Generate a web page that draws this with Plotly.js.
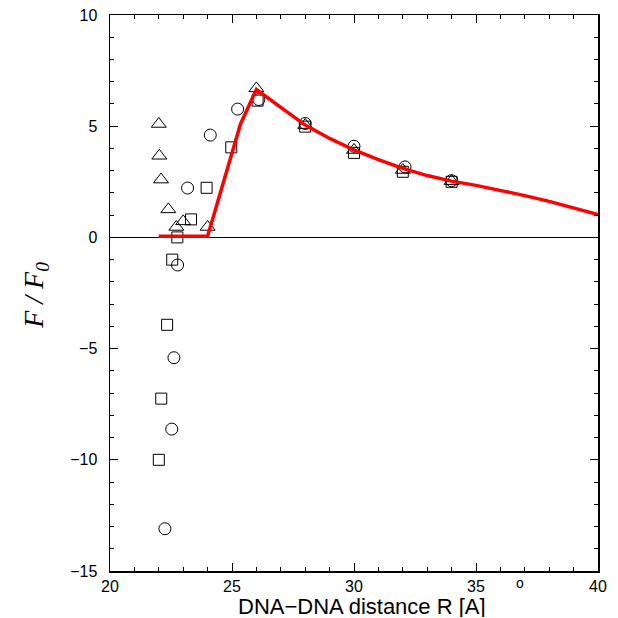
<!DOCTYPE html>
<html>
<head>
<meta charset="utf-8">
<script src="https://cdn.plot.ly/plotly-3.0.1.min.js"></script>
<style>html,body{margin:0;padding:0;background:#fff;}#chart{width:618px;height:618px;}</style>
</head>
<body>
<div id="chart"></div>
<script>
// Triangles
const triX = [22.0, 22.02, 22.09, 22.39, 22.72, 23.0, 24.0, 26.0, 28.0, 30.0, 32.0, 34.0];
const triY = [5.1, 3.67, 2.6, 1.26, 0.47, 0.72, 0.47, 6.7, 5.05, 3.93, 3.03, 2.53];
// Squares
const sqX = [22.0, 22.1, 22.34, 22.55, 22.76, 23.32, 23.96, 24.97, 26.05, 28.0, 30.0, 32.0, 34.0];
const sqY = [-10.0, -7.25, -3.93, -1.0, 0.0, 0.81, 2.23, 4.05, 6.15, 4.98, 3.8, 2.95, 2.5];
// Circles
const cirX = [22.25, 22.53, 22.62, 22.77, 23.18, 24.11, 25.23, 26.1, 28.0, 30.0, 32.09, 34.0];
const cirY = [-13.1, -8.62, -5.41, -1.24, 2.22, 4.6, 5.77, 6.2, 5.12, 4.1, 3.17, 2.55];
// Fit line
const fitX = [22, 24, 25.35, 26, 27, 28, 29, 30, 31, 32, 33, 34, 35, 36, 37, 38, 39, 40];
const fitY = [0.05, 0.05, 5.1, 6.65, 5.85, 5.05, 4.45, 3.93, 3.5, 3.1, 2.78, 2.53, 2.34, 2.12, 1.88, 1.62, 1.34, 1.03];

const xTitle = "DNA\u2212DNA distance R [A]";
const yTitle = "<i>F / F<sub>0</sub></i>";

const mk = (sym, size) => ({symbol: sym, size: size, color: 'black', line: {color: 'black', width: 1}});

const traces = [
  {x: triX, y: triY, mode: 'markers', type: 'scatter', marker: mk('triangle-up-open', 13), cliponaxis: false},
  {x: sqX, y: sqY, mode: 'markers', type: 'scatter', marker: mk('square-open', 11), cliponaxis: false},
  {x: cirX, y: cirY, mode: 'markers', type: 'scatter', marker: mk('circle-open', 12), cliponaxis: false},
  {x: fitX, y: fitY, mode: 'lines', type: 'scatter', line: {color: '#ff0000', width: 3.5}}
];

const axisCommon = {
  showline: true, linecolor: 'black', linewidth: 1.5, mirror: 'allticks',
  ticks: 'inside', ticklen: 8, tickwidth: 1, tickcolor: 'black',
  showgrid: false,
  tickfont: {family: 'Liberation Sans, Arial, sans-serif', size: 16, color: 'black'},
  minor: {ticks: 'inside', ticklen: 4, tickwidth: 1, tickcolor: 'black', dtick: 1, showgrid: false}
};

const layout = {
  width: 618, height: 618,
  margin: {l: 110, r: 20, t: 15, b: 47},
  paper_bgcolor: 'white', plot_bgcolor: 'white',
  showlegend: false,
  xaxis: Object.assign({}, axisCommon, {range: [20, 40], dtick: 5, tick0: 20, zeroline: false}),
  yaxis: Object.assign({}, axisCommon, {range: [-15, 10], dtick: 5, tick0: -15, zeroline: true, zerolinecolor: 'black', zerolinewidth: 1.5, ticklabelstandoff: 8}),
  annotations: [
    {xref: 'paper', yref: 'paper', x: 0.517, y: 0, yshift: -35, xanchor: 'center', yanchor: 'middle', height: 22, borderpad: 0,
     text: xTitle, showarrow: false, font: {family: 'Liberation Sans, Arial, sans-serif', size: 22, color: 'black'}},
    {xref: 'paper', yref: 'paper', x: 0.84, y: 0, yshift: -12, xanchor: 'center', yanchor: 'middle',
     text: 'o', showarrow: false, font: {family: 'Liberation Sans, Arial, sans-serif', size: 14, color: 'black'}},
    {xref: 'paper', yref: 'paper', x: 0, xshift: -74, y: 0.495, xanchor: 'center', yanchor: 'middle', textangle: -90,
     text: yTitle, showarrow: false, font: {family: 'Liberation Serif, Times New Roman, serif', size: 28, color: 'black'}}
  ]
};

Plotly.newPlot('chart', traces, layout, {displayModeBar: false, staticPlot: true});
</script>
</body>
</html>
